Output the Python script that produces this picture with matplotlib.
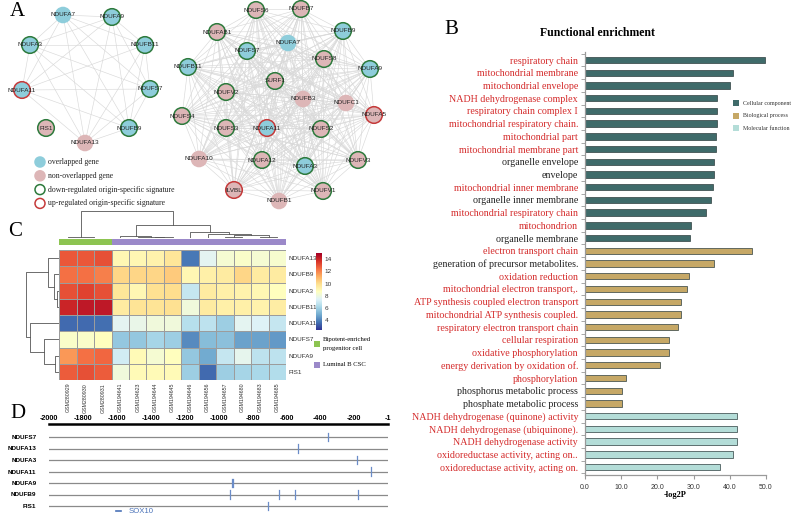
import numpy as np
import matplotlib.pyplot as plt
from matplotlib.patches import Circle, Rectangle

W, H = 791, 516
SERIF = "Liberation Serif"
SANS = "Liberation Sans"

# ---------------- panel A: networks ----------------
netL_genes = ["NDUFA7", "NDUFA9", "NDUFA3", "NDUFB11", "NDUFA11",
              "NDUFS7", "FIS1", "NDUFB9", "NDUFA13"]
netL_kind = ["o", "o", "o", "o", "o", "o", "n", "o", "n"]
netL_sig = ["", "down", "down", "down", "up", "down", "down", "down", ""]

netR_genes = ["NDUFS6", "NDUFB7", "NDUFAB1", "NDUFB9", "NDUFA7", "NDUFS7",
              "NDUFS8", "NDUFB11", "NDUFA9", "SURF1", "NDUFV2", "NDUFB3",
              "NDUFC1", "NDUFA5", "NDUFS4", "NDUFS3", "NDUFA11", "NDUFS2",
              "NDUFA10", "NDUFA12", "NDUFA3", "NDUFV3", "ILVBL", "NDUFV1",
              "NDUFB1"]
netR_kind = ["n", "n", "n", "o", "o", "o", "n", "o", "o", "n", "n", "n",
             "n", "n", "n", "n", "o", "n", "n", "n", "o", "n", "n", "n", "n"]
netR_sig = ["down", "down", "down", "down", "", "down", "down", "down", "down",
            "down", "down", "", "", "up", "down", "down", "up", "down", "",
            "down", "down", "down", "up", "down", ""]

legA_labels = ["overlapped gene", "non-overlapped gene",
               "down-regulated origin-specific signature",
               "up-regulated origin-specific signature"]

# node layout (pixels)
layoutL = {"NDUFA7": (63, 15), "NDUFA9": (112, 17), "NDUFA3": (30, 45),
           "NDUFB11": (145, 45), "NDUFA11": (22, 90), "NDUFS7": (150, 89),
           "FIS1": (46, 128), "NDUFB9": (129, 128), "NDUFA13": (85, 143)}
layoutR = {"NDUFS6": (256, 10), "NDUFB7": (301, 9), "NDUFAB1": (217, 32),
           "NDUFB9": (343, 31), "NDUFA7": (288, 43), "NDUFS7": (247, 51),
           "NDUFS8": (324, 59), "NDUFB11": (188, 67), "NDUFA9": (370, 69),
           "SURF1": (275, 81), "NDUFV2": (226, 92), "NDUFB3": (303, 99),
           "NDUFC1": (346, 103), "NDUFA5": (374, 115), "NDUFS4": (182, 116),
           "NDUFS3": (226, 128), "NDUFA11": (267, 128), "NDUFS2": (321, 129),
           "NDUFA10": (199, 159), "NDUFA12": (262, 160), "NDUFA3": (305, 166),
           "NDUFV3": (358, 160), "ILVBL": (234, 190), "NDUFV1": (323, 191),
           "NDUFB1": (279, 201)}

# ---------------- panel B: functional enrichment ----------------
go_terms = ["respiratory chain", "mitochondrial membrane", "mitochondrial envelope",
            "NADH dehydrogenase complex", "respiratory chain complex I",
            "mitochondrial respiratory chain.", "mitochondrial part",
            "mitochondrial membrane part", "organelle envelope", "envelope",
            "mitochondrial inner membrane", "organelle inner membrane",
            "mitochondrial respiratory chain", "mitochondrion", "organelle membrane",
            "electron transport chain", "generation of precursor metabolites.",
            "oxidation reduction", "mitochondrial electron transport,.",
            "ATP synthesis coupled electron transport",
            "mitochondrial ATP synthesis coupled.",
            "respiratory electron transport chain", "cellular respiration",
            "oxidative phosphorylation", "energy derivation by oxidation of.",
            "phosphorylation", "phosphorus metabolic process",
            "phosphate metabolic process",
            "NADH dehydrogenase (quinone) activity",
            "NADH dehydrogenase (ubiquinone).", "NADH dehydrogenase activity",
            "oxidoreductase activity, acting on..",
            "oxidoreductase activity, acting on."]
go_vals = [49.6, 40.8, 40.1, 36.4, 36.4, 36.4, 36.1, 36.1, 35.6, 35.6, 35.4,
           34.8, 33.3, 29.2, 29.0,
           46.1, 35.7, 28.7, 28.2, 26.5, 26.6, 25.6, 23.2, 23.2, 20.8, 11.4,
           10.3, 10.3,
           42.1, 42.1, 42.1, 41.0, 37.3]
go_cat = ["CC"] * 15 + ["BP"] * 13 + ["MF"] * 5
go_black = ["organelle envelope", "envelope", "organelle inner membrane",
            "organelle membrane", "generation of precursor metabolites.",
            "phosphorus metabolic process", "phosphate metabolic process"]
cat_names = {"CC": "Cellular component", "BP": "Biological process",
             "MF": "Molecular function"}
cat_colors = {"CC": "#3f6b6a", "BP": "#c6a866", "MF": "#b4ddd8"}

# ---------------- panel C: heatmap ----------------
hm_genes = ["NDUFA13", "NDUFB9", "NDUFA3", "NDUFB11", "NDUFA11", "NDUFS7",
            "NDUFA9", "FIS1"]
hm_samples = ["GSM280929", "GSM280930", "GSM280931", "GSM194641", "GSM194623",
              "GSM194644", "GSM194645", "GSM194646", "GSM194656", "GSM194657",
              "GSM194680", "GSM194683", "GSM194685"]
hm_group = ["Bipotent"] * 3 + ["LumB"] * 10
hm_vals = [
    [13.3, 13.3, 13.5, 9.3, 9.3, 9.5, 10.0, 3.8, 7.8, 8.5, 8.7, 8.5, 8.6],
    [12.8, 12.8, 12.5, 10.5, 10.5, 10.5, 10.8, 9.3, 9.6, 9.8, 10.5, 9.8, 9.8],
    [13.5, 13.8, 13.5, 10.0, 9.3, 10.2, 10.3, 7.0, 9.8, 9.6, 9.5, 9.3, 9.0],
    [14.5, 14.8, 14.8, 9.8, 10.1, 10.1, 10.2, 8.3, 9.8, 9.6, 9.6, 9.5, 9.7],
    [3.5, 3.5, 3.6, 7.8, 8.0, 8.3, 8.3, 6.6, 6.8, 6.0, 7.8, 7.6, 7.0],
    [8.7, 8.7, 9.0, 5.8, 5.8, 6.2, 6.0, 4.2, 5.5, 5.6, 4.8, 4.8, 4.6],
    [12.0, 12.8, 13.0, 7.3, 9.2, 8.5, 9.0, 5.8, 5.0, 7.0, 7.9, 6.8, 6.8],
    [13.2, 13.5, 13.2, 8.3, 9.2, 9.2, 9.2, 6.0, 3.5, 6.0, 6.2, 6.3, 6.5],
]
col_merges = [(1, 2, 0.1), (0, 13, 0.2), (5, 6, 0.2), (4, 15, 0.35), (3, 16, 0.5),
              (9, 10, 0.3), (11, 12, 0.35), (18, 19, 0.6), (8, 20, 0.9),
              (7, 21, 1.3), (17, 22, 2.75), (14, 23, 5.5)]
row_merges = [(2, 3, 0.2), (1, 8, 0.5), (0, 9, 1.03), (6, 7, 0.4), (5, 11, 1.45),
              (4, 12, 2.8), (10, 13, 3.2)]
group_colors = {"Bipotent": "#8dc451", "LumB": "#9b89c9"}

# ---------------- panel D: SOX10 sites ----------------
prom_genes = ["NDUFS7", "NDUFA13", "NDUFA3", "NDUFA11", "NDUFA9", "NDUFB9", "FIS1"]
sox10_sites = [("NDUFS7", -355), ("NDUFA13", -530), ("NDUFA3", -186),
               ("NDUFA11", -103), ("NDUFA9", -922), ("NDUFA9", -914),
               ("NDUFB9", -933), ("NDUFB9", -642), ("NDUFB9", -551),
               ("NDUFB9", -176), ("FIS1", -707)]

fig = plt.figure(figsize=(W / 100, H / 100), dpi=100)


def px_axes(x0, y0, x1, y1):
    ax = fig.add_axes([x0 / W, 1 - y1 / H, (x1 - x0) / W, (y1 - y0) / H])
    ax.patch.set_alpha(0)
    return ax


ov = px_axes(0, 0, W, H)
ov.set_xlim(0, W)
ov.set_ylim(H, 0)
ov.axis("off")

kind_fc = {"o": "#8ecddb", "n": "#ddb6b7"}
sig_ec = {"down": "#2d7a3c", "up": "#c53a3a", "": None}


def draw_net(genes, kinds, sigs, layout, skip_edges=()):
    for i in range(len(genes)):
        for j in range(i + 1, len(genes)):
            if genes[i] in skip_edges or genes[j] in skip_edges:
                continue
            (x1, y1), (x2, y2) = layout[genes[i]], layout[genes[j]]
            ov.plot([x1, x2], [y1, y2], color="#d9d9d9", lw=0.45, zorder=1)
    for g, k, s in zip(genes, kinds, sigs):
        x, y = layout[g]
        ec = sig_ec[s]
        ov.add_patch(Circle((x, y), 8.3, fc=kind_fc[k],
                            ec=ec if ec else kind_fc[k], lw=1.1 if ec else 0,
                            zorder=2))
        ov.text(x, y, g, fontsize=4.6, family=SANS, color="#222222",
                ha="center", va="center", zorder=3)


draw_net(netL_genes, netL_kind, netL_sig, layoutL, skip_edges=("FIS1",))
draw_net(netR_genes, netR_kind, netR_sig, layoutR)

leg_fc = [kind_fc["o"], kind_fc["n"], "white", "white"]
leg_ec = [kind_fc["o"], kind_fc["n"], sig_ec["down"], sig_ec["up"]]
for i, lab in enumerate(legA_labels):
    y = 162 + 13.8 * i
    ov.add_patch(Circle((40, y), 5, fc=leg_fc[i], ec=leg_ec[i], lw=1.1, zorder=2))
    ov.text(48, y, lab, fontsize=5.6, family=SERIF, va="center", color="#222222")

# panel letters
for lab, x, y in [("A", 10, 12), ("B", 444, 30), ("C", 8, 231), ("D", 10, 413)]:
    ov.text(x, y, lab, fontsize=15, family=SERIF, va="center", ha="left")

# ---------------- panel B ----------------
ov.text(597, 33, "Functional enrichment", fontsize=8.5, family=SERIF,
        fontweight="bold", ha="center", va="center")
n = len(go_terms)
axb = px_axes(585, 52.4, 766, 474.7)
ypos = np.arange(n)
axb.barh(ypos, go_vals, height=0.5, color=[cat_colors[c] for c in go_cat],
         edgecolor="#2e3f3f", lw=0.5)
axb.set_xlim(0, 50)
axb.set_ylim(n - 1 + 0.6, -0.6)
axb.set_yticks(ypos)
axb.set_yticklabels(go_terms, fontsize=7.2, family=SERIF)
for lab, term in zip(axb.get_yticklabels(), go_terms):
    lab.set_color("#222222" if term in go_black else "#d42a2a")
axb.set_yticks(np.arange(-0.5, n), minor=True)
axb.tick_params(axis="y", which="major", length=0, pad=5)
axb.tick_params(axis="y", which="minor", length=3, color="#999999")
axb.set_xticks(np.arange(0, 51, 10))
axb.set_xticklabels([f"{v:.1f}" for v in np.arange(0, 51, 10)], fontsize=5,
                    family=SANS, color="#333333")
axb.tick_params(axis="x", length=3, color="#999999", pad=4)
axb.set_xlabel("-log2P", fontsize=6, family=SERIF, fontweight="bold", labelpad=0)
for sp in ["top", "right"]:
    axb.spines[sp].set_visible(False)
for sp in ["left", "bottom"]:
    axb.spines[sp].set_color("#9a9a9a")
    axb.spines[sp].set_linewidth(0.9)

for i, c in enumerate(["CC", "BP", "MF"]):
    y = 103 + 12.5 * i
    ov.add_patch(Rectangle((733, y - 3), 6, 6, fc=cat_colors[c], ec="none"))
    ov.text(743, y, cat_names[c], fontsize=4.3, family=SERIF, va="center",
            color="#333333")

# ---------------- panel C ----------------
vals = np.array(hm_vals)
nr, nc = vals.shape
axh = px_axes(59.3, 250, 286, 380)
axh.pcolormesh(np.arange(nc + 1), np.arange(nr + 1), vals, cmap="RdYlBu_r",
               vmin=2.4, vmax=15.5, edgecolors="#9c9c9c", lw=0.6)
axh.set_xlim(0, nc)
axh.set_ylim(nr, 0)
axh.yaxis.tick_right()
axh.set_yticks(np.arange(nr) + 0.5)
axh.set_yticklabels(hm_genes, fontsize=4.6, family=SANS, color="#333333")
axh.set_xticks(np.arange(nc) + 0.5)
axh.set_xticklabels(hm_samples, fontsize=3.8, family=SANS, rotation=90,
                    color="#333333")
axh.tick_params(length=0, pad=2)
for sp in axh.spines.values():
    sp.set_visible(False)

axa = px_axes(59.3, 239, 286, 244.5)
for i, g in enumerate(hm_group):
    axa.add_patch(Rectangle((i, 0), 1, 1, fc=group_colors[g], ec="none"))
axa.set_xlim(0, nc)
axa.set_ylim(0, 1)
axa.axis("off")


def draw_dendro(ax, merges, nleaf, vertical):
    pos = {i: i + 0.5 for i in range(nleaf)}
    hgt = {i: 0.0 for i in range(nleaf)}
    for k, (a, b, h) in enumerate(merges):
        xs = [pos[a], pos[a], pos[b], pos[b]]
        hs = [hgt[a], h, h, hgt[b]]
        if vertical:
            ax.plot(xs, hs, color="#555555", lw=0.6)
        else:
            ax.plot(hs, xs, color="#555555", lw=0.6)
        pos[nleaf + k] = (pos[a] + pos[b]) / 2
        hgt[nleaf + k] = h


axcd = px_axes(59.3, 210.5, 286, 238.5)
draw_dendro(axcd, col_merges, nc, True)
axcd.set_xlim(0, nc)
axcd.set_ylim(0, 5.6)
axcd.axis("off")

axrd = px_axes(25, 250, 59, 380)
draw_dendro(axrd, row_merges, nr, False)
axrd.set_xlim(3.3, 0)
axrd.set_ylim(nr, 0)
axrd.axis("off")

axcb = px_axes(316, 253, 322, 330)
grad = np.linspace(2.4, 15.5, 200).reshape(-1, 1)
axcb.imshow(grad, aspect="auto", cmap="RdYlBu_r", origin="lower",
            extent=[0, 1, 2.4, 15])
axcb.set_xticks([])
axcb.yaxis.tick_right()
axcb.set_yticks([4, 6, 8, 10, 12, 14])
axcb.set_yticklabels(["4", "6", "8", "10", "12", "14"], fontsize=4.6,
                     family=SANS, color="#333333")
axcb.tick_params(length=0, pad=2)
for sp in axcb.spines.values():
    sp.set_visible(False)

ov.add_patch(Rectangle((314, 341), 5.5, 5.5, fc=group_colors["Bipotent"], ec="none"))
ov.text(323, 339, "Bipotent-enriched", fontsize=4.8, family=SERIF, va="center")
ov.text(323, 348.5, "progenitor cell", fontsize=4.8, family=SERIF, va="center")
ov.add_patch(Rectangle((314, 362), 5.5, 5.5, fc=group_colors["LumB"], ec="none"))
ov.text(323, 365, "Luminal B CSC", fontsize=4.8, family=SERIF, va="center")

# ---------------- panel D ----------------
axd = px_axes(49, 424, 388, 514)
ng = len(prom_genes)
for i in range(ng):
    axd.plot([-2000, -1], [i, i], color="#8a8a8a", lw=0.9)
rowi = {g: i for i, g in enumerate(prom_genes)}
for g, p in sox10_sites:
    axd.plot([p, p], [rowi[g] - 0.38, rowi[g] + 0.38], color="#6a8cc8", lw=0.9)
axd.set_xlim(-2000, -1)
axd.set_ylim(6 + 8 / 11.5, -13 / 11.5)
axd.xaxis.tick_top()
dticks = list(range(-2000, 0, 200)) + [-1]
axd.set_xticks(dticks)
axd.set_xticklabels([str(t) for t in dticks], fontsize=5.2, family=SANS,
                    fontweight="bold")
axd.tick_params(axis="x", length=0, pad=1.5)
axd.set_yticks(np.arange(ng))
axd.set_yticklabels(prom_genes, fontsize=4.6, family=SANS, fontweight="bold")
axd.tick_params(axis="y", length=0, pad=9)
for sp in ["left", "right", "bottom"]:
    axd.spines[sp].set_visible(False)
axd.spines["top"].set_linewidth(1.8)

ov.plot([115.5, 120.5], [511, 511], color="#4a72b8", lw=1.2)
ov.text(129, 511.5, "SOX10", fontsize=5.6, family=SANS, color="#4a72b8",
        va="center")

fig.savefig("out.png", dpi=100)
